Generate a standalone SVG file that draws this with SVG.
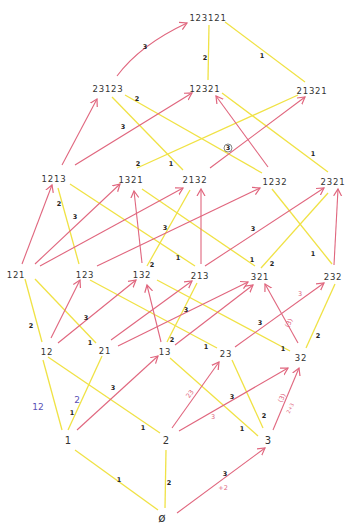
<svg xmlns="http://www.w3.org/2000/svg" width="347" height="528" viewBox="0 0 347 528">
<defs>
<marker id="ah" markerUnits="userSpaceOnUse" markerWidth="10" markerHeight="10" refX="7" refY="4" orient="auto" viewBox="0 0 10 8">
<path d="M0,0 L7,4 L0,8" fill="none" stroke="#e0667e" stroke-width="1.2"/>
</marker>
<style>
.y{stroke:#f0e245;stroke-width:1.3;fill:none}
.r{stroke:#e0667e;stroke-width:1.1;fill:none;marker-end:url(#ah)}
.n{font-family:"DejaVu Sans",sans-serif;font-size:8.5px;fill:#333;text-anchor:middle;letter-spacing:0.8px}
.nb{font-family:"DejaVu Sans",sans-serif;font-size:10px;fill:#333;text-anchor:middle}
.l{font-family:"DejaVu Sans",sans-serif;font-size:6.5px;fill:#222;text-anchor:middle;font-weight:bold}
.lr{font-family:"DejaVu Sans",sans-serif;font-size:6.5px;fill:#e0667e;text-anchor:middle}
.lp{font-family:"DejaVu Sans",sans-serif;font-size:9px;fill:#5a52b5;text-anchor:middle}
</style>
</defs>
<rect width="347" height="528" fill="#ffffff"/>
<g id="connectors">
<line class="y" x1="209" y1="25" x2="208" y2="80"/>
<line class="y" x1="225" y1="22" x2="305" y2="82"/>
<line class="y" x1="112" y1="97" x2="183" y2="170"/>
<line class="y" x1="125" y1="95" x2="262" y2="173"/>
<line class="y" x1="137" y1="168" x2="298" y2="95"/>
<line class="y" x1="222" y1="93" x2="328" y2="172"/>
<line class="y" x1="58" y1="188" x2="79" y2="264"/>
<line class="y" x1="70" y1="184" x2="195" y2="266"/>
<line class="y" x1="142" y1="189" x2="255" y2="266"/>
<line class="y" x1="190" y1="190" x2="147" y2="266"/>
<line class="y" x1="272" y1="189" x2="332" y2="264"/>
<line class="y" x1="328" y1="193" x2="261" y2="268"/>
<line class="y" x1="25" y1="279" x2="42" y2="342"/>
<line class="y" x1="35" y1="279" x2="96" y2="343"/>
<line class="y" x1="90" y1="280" x2="217" y2="348"/>
<line class="y" x1="157" y1="280" x2="290" y2="351"/>
<line class="y" x1="197" y1="283" x2="167" y2="342"/>
<line class="y" x1="335" y1="284" x2="306" y2="348"/>
<line class="y" x1="43" y1="360" x2="62" y2="430"/>
<line class="y" x1="102" y1="356" x2="68" y2="430"/>
<line class="y" x1="48" y1="357" x2="160" y2="433"/>
<line class="y" x1="170" y1="358" x2="258" y2="436"/>
<line class="y" x1="232" y1="360" x2="263" y2="428"/>
<line class="y" x1="75" y1="450" x2="158" y2="510"/>
<line class="y" x1="166" y1="450" x2="165" y2="508"/>

<path class="r" d="M117,76 Q140,45 187,23"/>
<line class="r" x1="62" y1="165" x2="97" y2="99"/>
<line class="r" x1="75" y1="165" x2="192" y2="93"/>
<line class="r" x1="268" y1="167" x2="216" y2="96"/>
<line class="r" x1="210" y1="168" x2="305" y2="97"/>
<line class="r" x1="22" y1="264" x2="52" y2="185"/>
<line class="r" x1="35" y1="264" x2="120" y2="184"/>
<line class="r" x1="40" y1="266" x2="183" y2="188"/>
<line class="r" x1="97" y1="266" x2="260" y2="188"/>
<line class="r" x1="142" y1="263" x2="134" y2="191"/>
<line class="r" x1="201" y1="264" x2="201" y2="189"/>
<line class="r" x1="205" y1="266" x2="324" y2="188"/>
<line class="r" x1="334" y1="265" x2="338" y2="189"/>
<line class="r" x1="51" y1="338" x2="80" y2="280"/>
<line class="r" x1="58" y1="343" x2="136" y2="280"/>
<line class="r" x1="111" y1="340" x2="192" y2="281"/>
<line class="r" x1="118" y1="346" x2="248" y2="282"/>
<line class="r" x1="161" y1="342" x2="147" y2="285"/>
<line class="r" x1="175" y1="345" x2="253" y2="285"/>
<line class="r" x1="235" y1="347" x2="324" y2="283"/>
<line class="r" x1="298" y1="343" x2="265" y2="284"/>
<line class="r" x1="77" y1="430" x2="158" y2="356"/>
<line class="r" x1="172" y1="428" x2="219" y2="362"/>
<line class="r" x1="179" y1="431" x2="288" y2="368"/>
<line class="r" x1="273" y1="430" x2="299" y2="368"/>
<line class="r" x1="177" y1="513" x2="265" y2="448"/>

<g id="edge-labels">
<text class="l" x="205" y="60">2</text>
<text class="l" x="262" y="58">1</text>
<text class="l" x="171" y="166">1</text>
<text class="l" x="137" y="101">2</text>
<text class="l" x="138" y="166">2</text>
<text class="l" x="313" y="156">1</text>
<text class="l" x="59" y="206">2</text>
<text class="l" x="178" y="260">1</text>
<text class="l" x="252" y="262">1</text>
<text class="l" x="152" y="267">2</text>
<text class="l" x="313" y="256">1</text>
<text class="l" x="272" y="266">2</text>
<text class="l" x="31" y="328">2</text>
<text class="l" x="90" y="345">1</text>
<text class="l" x="206" y="349">1</text>
<text class="l" x="283" y="351">1</text>
<text class="l" x="172" y="342">2</text>
<text class="l" x="318" y="338">2</text>
<text class="lp" x="38" y="410">12</text>
<text class="lp" x="77" y="403">2</text>
<text class="l" x="72" y="415">1</text>
<text class="l" x="143" y="430">1</text>
<text class="l" x="242" y="431">1</text>
<text class="l" x="264" y="418">2</text>
<text class="l" x="119" y="482">1</text>
<text class="l" x="169" y="485">2</text>
<text class="l" x="145" y="49">3</text>
<text class="l" x="123" y="129">3</text>
<circle cx="228" cy="148" r="4" fill="none" stroke="#333" stroke-width="0.6"/>
<text class="l" x="228" y="150">3</text>
<text class="l" x="75" y="219">3</text>
<text class="l" x="165" y="230">3</text>
<text class="l" x="253" y="231">3</text>
<text class="l" x="86" y="320">3</text>
<text class="l" x="186" y="312">3</text>
<text class="l" x="260" y="325">3</text>
<text class="lr" x="300" y="296">3</text>
<text class="lr" transform="translate(289,323) rotate(-65)" x="0" y="2">(3)</text>
<text class="l" x="113" y="390">3</text>
<text class="lr" transform="translate(190,394) rotate(-55)" x="0" y="2">23</text>
<text class="l" x="232" y="399">3</text>
<text class="lr" x="213" y="419">3</text>
<text class="lr" transform="translate(282,398) rotate(-65)" x="0" y="2">(3)</text>
<text class="lr" transform="translate(290,408) rotate(-65)" x="0" y="2" style="font-size:5px">2+3</text>
<text class="l" x="225" y="476">3</text>
<text class="lr" x="223" y="490">+2</text>
</g>
</g>

<g id="n123121"><text class="n" x="208" y="21">123121</text></g>
<g id="n23123"><text class="n" x="108" y="92">23123</text></g>
<g id="n12321"><text class="n" x="205" y="92">12321</text></g>
<g id="n21321"><text class="n" x="312" y="94">21321</text></g>
<g id="n1213"><text class="n" x="54" y="182">1213</text></g>
<g id="n1321"><text class="n" x="131" y="183">1321</text></g>
<g id="n2132"><text class="n" x="195" y="183">2132</text></g>
<g id="n1232"><text class="n" x="275" y="185">1232</text></g>
<g id="n2321"><text class="n" x="333" y="185">2321</text></g>
<g id="n121"><text class="n" x="16" y="278">121</text></g>
<g id="n123"><text class="n" x="85" y="278">123</text></g>
<g id="n132"><text class="n" x="142" y="278">132</text></g>
<g id="n213"><text class="n" x="200" y="279">213</text></g>
<g id="n321"><text class="n" x="260" y="280">321</text></g>
<g id="n232"><text class="n" x="333" y="280">232</text></g>
<g id="n12"><text class="n" x="47" y="355">12</text></g>
<g id="n21"><text class="n" x="105" y="354">21</text></g>
<g id="n13"><text class="n" x="165" y="355">13</text></g>
<g id="n23"><text class="n" x="226" y="357">23</text></g>
<g id="n32"><text class="n" x="301" y="361">32</text></g>
<g id="n1"><text class="nb" x="68" y="444">1</text></g>
<g id="n2"><text class="nb" x="166" y="444">2</text></g>
<g id="n3"><text class="nb" x="268" y="444">3</text></g>
<g id="nempty"><text class="nb" x="162" y="522" style="font-size:12px">ø</text></g>
</svg>
